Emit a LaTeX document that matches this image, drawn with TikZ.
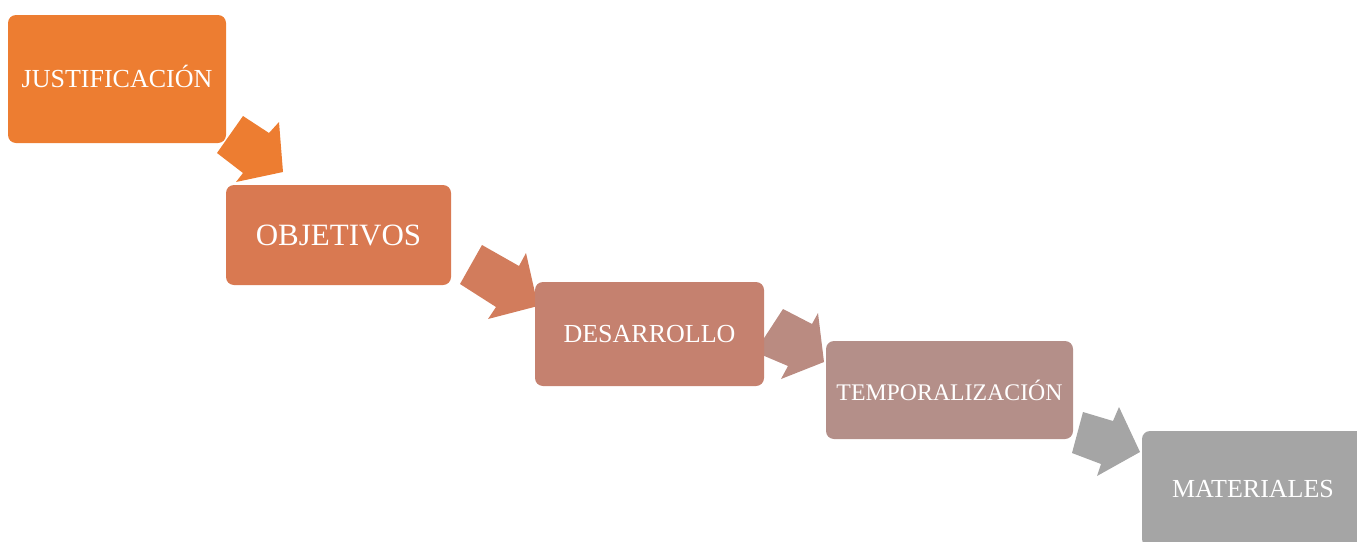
\documentclass[tikz,border=0pt]{standalone}
\usepackage{fontspec}
\setmainfont{Liberation Serif}
\definecolor{cA}{HTML}{ED7D31}
\definecolor{cB}{HTML}{D97951}
\definecolor{cC}{HTML}{C5816F}
\definecolor{cD}{HTML}{B48F89}
\definecolor{cE}{HTML}{A5A5A5}
\definecolor{aB}{HTML}{D27C5C}
\definecolor{aC}{HTML}{BA8B81}
\begin{document}
\begin{tikzpicture}[x=1pt,y=-1pt,
  stage/.style={rectangle,rounded corners=8pt,draw=none,inner sep=0pt},
  label/.style={text=white,inner sep=0pt,font=\fontsize{26}{30}\selectfont}]
\useasboundingbox (0,0) rectangle (1357,541);
\clip (0,0) rectangle (1357,541);
% bent block arrows between stages
\fill[cA] (217,153) -- (243,116) -- (269,133) -- (279,122) -- (283,172) -- (236,182) -- (243,173) -- cycle;
\fill[aB] (460,284) -- (482,245) -- (519,266) -- (526,253) -- (538,306) -- (488,319) -- (496,307) -- cycle;
\fill[aC] (755,352) -- (783,309) -- (812,324) -- (818,313) -- (824,362) -- (781,379) -- (788,366) -- cycle;
\fill[cE] (1072,453) -- (1083,412) -- (1113,421) -- (1119,407) -- (1140,452) -- (1097,476) -- (1101,464) -- cycle;
% stages
\node[stage,fill=cA,minimum width=218pt,minimum height=128pt] (just) at (117,79) {};
\node[stage,fill=cB,minimum width=225pt,minimum height=100pt] (obj) at (338.5,235) {};
\node[stage,fill=cC,minimum width=229pt,minimum height=104pt] (des) at (649.5,334) {};
\node[stage,fill=cD,minimum width=247pt,minimum height=98pt] (temp) at (949.5,390) {};
\node[stage,fill=cE,minimum width=232pt,minimum height=116pt] (mat) at (1258,489) {};
% stage titles
\node[label] at ([yshift=3pt]just.center) {JUSTIFICACIÓN};
\node[label,font=\fontsize{31}{35}\selectfont] at (obj.center) {OBJETIVOS};
\node[label] at (des.center) {DESARROLLO};
\node[label,font=\fontsize{23.8}{28}\selectfont] at (temp.center) {TEMPORALIZACIÓN};
\node[label] at ([xshift=-5pt]mat.center) {MATERIALES};
\end{tikzpicture}
\end{document}
